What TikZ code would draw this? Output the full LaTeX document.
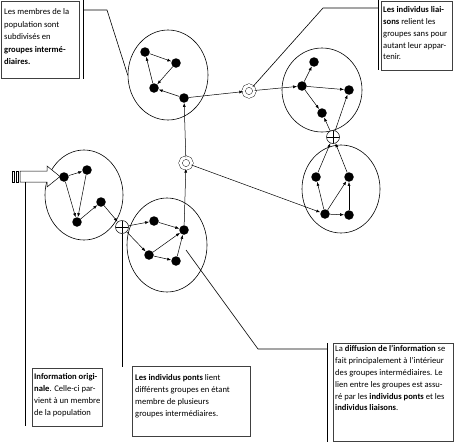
\documentclass[tikz,border=0pt]{standalone}
\usepackage{fontspec}
\setmainfont{Carlito}
\usetikzlibrary{arrows.meta,shapes.geometric}
\tikzset{
  groupe/.style={draw, ellipse, inner sep=0pt, line width=0.6pt},
  membre/.style={circle, fill, inner sep=0pt, minimum size=9.5pt},
  liaison/.style={circle, draw, double, double distance=3pt, inner sep=0pt, minimum size=11pt, fill=white},
  pont/.style={circle, draw, inner sep=0pt, minimum size=13pt, fill=white, line width=0.5pt,
    path picture={\draw (path picture bounding box.north) -- (path picture bounding box.south)
      (path picture bounding box.west) -- (path picture bounding box.east);}},
  lien/.style={-{Latex[length=4pt,width=3pt]}, line width=0.5pt},
  note/.style={anchor=north west, inner sep=0pt, align=left, font=\fontsize{8.6}{11.8}\selectfont},
  cadre/.style={draw=black!75, line width=0.6pt},
  renvoi/.style={line width=0.6pt},
}
\begin{document}
\begin{tikzpicture}[x=1pt,y=-1pt]
\useasboundingbox (0,0) rectangle (454,442);
% groupes intermediaires
\node[groupe, minimum width=80pt, minimum height=90pt] (grp1) at (168,75){};
\node[groupe, minimum width=80pt, minimum height=84pt] (grp2) at (322,90){};
\node[groupe, minimum width=78pt, minimum height=88pt] (grp3) at (341,189){};
\node[groupe, minimum width=78pt, minimum height=90pt] (grp4) at (84,195){};
\node[groupe, minimum width=80pt, minimum height=94pt] (grp5) at (167,245){};
% individus
\node[membre] (ind11) at (145,52){};
\node[membre] (ind12) at (176,63){};
\node[membre] (ind13) at (154,88){};
\node[membre] (ind14) at (184,98){};
\node[membre] (ind21) at (314,62){};
\node[membre] (ind22) at (302,86){};
\node[membre] (ind23) at (349,90){};
\node[membre] (ind24) at (322,113){};
\node[membre] (ind31) at (316,177){};
\node[membre] (ind32) at (349,177){};
\node[membre] (ind33) at (325,214){};
\node[membre] (ind34) at (349,215){};
\node[membre] (ind41) at (64,177){};
\node[membre] (ind42) at (87,170){};
\node[membre] (ind43) at (101,202){};
\node[membre] (ind44) at (77,222){};
\node[membre] (ind51) at (154,221){};
\node[membre] (ind52) at (184,230){};
\node[membre] (ind53) at (149,255){};
\node[membre] (ind54) at (176,261){};
% liaisons et ponts
\node[liaison] (lia1) at (249,91){};
\node[liaison] (lia2) at (186,163){};
\node[pont] (pont1) at (122,227){};
\node[pont] (pont2) at (333,137){};
% liens
\draw[lien](ind11) -- (ind12);
\draw[lien](ind12) -- (ind13);
\draw[lien](ind13) -- (ind11);
\draw[lien](ind14) -- (ind13);
\draw[lien](ind14) -- (lia1);
\draw[lien](lia1) -- (ind22);
\draw[lien](ind22) -- (ind21);
\draw[lien](ind22) -- (ind23);
\draw[lien](ind22) -- (ind24);
\draw[lien](pont2) -- (ind24);
\draw[lien](pont2) -- (ind23);
\draw[lien](ind31) -- (pont2);
\draw[lien](ind32) -- (pont2);
\draw[lien](ind33) -- (ind31);
\draw[lien](ind33) -- (ind32);
\draw[lien](ind33) -- (ind34);
\draw[lien](ind34) -- (ind32);
\draw[lien](ind41) -- (ind42);
\draw[lien](ind42) -- (ind44);
\draw[lien](ind41) -- (ind44);
\draw[lien](ind44) -- (ind43);
\draw[lien](ind43) -- (pont1);
\draw[lien](pont1) -- (ind51);
\draw[lien](pont1) -- (ind53);
\draw[lien](ind51) -- (ind52);
\draw[lien](ind53) -- (ind52);
\draw[lien](ind53) -- (ind54);
\draw[lien](ind54) -- (ind52);
\draw[lien](ind52) -- (lia2);
\draw[lien](lia2) -- (ind14);
\draw[lien](lia2) -- (ind33);
% information originale
\draw[fill=white, line width=0.5pt] (20,171) -- (47,171) -- (47,166) -- (60,176.5) -- (47,187) -- (47,182) -- (20,182) -- cycle;
\draw[fill=white, line width=0.5pt] (12,171) rectangle (14,182);
\draw[fill=white, line width=0.5pt] (16,171) rectangle (18,182);
\coordinate (fleche) at (25,182);
% bulles
\draw[cadre] (1,1) rectangle (79,78);
\node[note, font=\fontsize{8.6}{12.5}\selectfont] (membres) at (4,8.5){Les membres de la\\population sont\\subdivisés en\\\textbf{groupes intermé-}\\\textbf{diaires.}};
\draw[renvoi] (83,0) -- (83,79);
\coordinate (coude1) at (107,10);
\draw[renvoi] (83,10) -- (coude1) -- (grp1.west);
\draw[cadre] (381,1) rectangle (452,70);
\node[note] (liaisons) at (383,6.5){\textbf{Les individus liai-}\\\textbf{sons} relient les\\groupes sans pour\\autant leur appar-\\tenir.};
\draw[renvoi] (378,0) -- (378,70);
\coordinate (coude2) at (323,8);
\draw[renvoi] (378,8) -- (coude2) -- (lia1);
\draw[cadre] (32,368) rectangle (102,426);
\node[note] (origine) at (34,373.5){\textbf{Information origi-}\\\textbf{nale}. Celle-ci par-\\vient à un membre\\de la population};
\draw[renvoi] (fleche) -- (25,426);
\draw[cadre] (132,366) rectangle (250,436);
\node[note] (ponts) at (135,374.5){\textbf{Les individus ponts} lient\\différents groupes en étant\\membre de plusieurs\\groupes intermédiaires.};
\coordinate (bout4) at (122,367);
\draw[renvoi] (pont1) -- (bout4);
\draw[cadre] (333,343) rectangle (453,441.5);
\node[note] (diffusion) at (335,345.5){La \textbf{diffusion de l'information} se\\fait principalement à l'intérieur\\des groupes intermédiaires. Le\\lien entre les groupes est assu-\\ré par les \textbf{individus ponts} et les\\\textbf{individus liaisons}.};
\draw[renvoi] (327,343) -- (327,442);
\coordinate (coude3) at (258,349);
\coordinate (pointe5) at (186,250);
\draw[renvoi] (327,349) -- (coude3) -- (pointe5);
\end{tikzpicture}
\end{document}
